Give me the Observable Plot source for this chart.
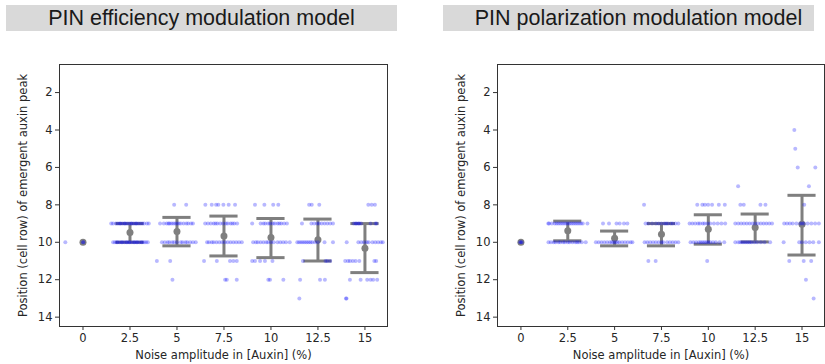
<!DOCTYPE html>
<html>
<head>
<meta charset="utf-8">
<script src="https://cdn.jsdelivr.net/npm/d3@7"></script>
<script src="https://cdn.jsdelivr.net/npm/@observablehq/plot@0.6"></script>
<style>
  html, body { margin: 0; padding: 0; background: #fff; }
  #wrap { position: relative; width: 825px; height: 364px; overflow: hidden; background: #fff; }
  .title { position: absolute; top: 5px; height: 26px; background: #d9d9d9; font-family: "Liberation Sans", Arial, sans-serif; font-size: 21.5px; line-height: 26px; color: #1a1a1a; text-align: center; white-space: nowrap; }
  .panel { position: absolute; top: 0; }
</style>
</head>
<body>
<div id="wrap">
  <div class="title" style="left:6px;width:391px;">PIN efficiency modulation model</div>
  <div class="title" style="left:443px;width:371px;"><span style="position:relative;left:10px;">PIN polarization modulation model</span></div>
  <div class="panel" id="left" style="left:0;"></div>
  <div class="panel" id="right" style="left:410px;"></div>
</div>
<script>
const noiseLevels = [0, 2.5, 5, 7.5, 10, 12.5, 15];
const yTicks = [2, 4, 6, 8, 10, 12, 14];
const xLabel = "Noise amplitude in [Auxin] (%)";
const yLabel = "Position (cell row) of emergent auxin peak";

// PIN efficiency modulation model
const effMean = [10, 9.48, 9.42, 9.66, 9.75, 9.87, 10.32];
const effLow  = [10, 9.0, 8.67, 8.6, 8.73, 8.76, 9.0];
const effHigh = [10, 10.0, 10.19, 10.73, 10.82, 11.0, 11.62];
// rows of jittered points: [cell row, [x positions]]
const effPoints = [
  [10, [-0.94, 0.0, 0.02]],
  [9, [1.5,1.6,1.75,1.85,1.95,2.0,2.1,2.2,2.25,2.35,2.45,2.55,2.6,2.7,2.8,2.85,2.95,3.05,3.15,3.25,3.4,3.5]],
  [10, [1.6,1.7,1.8,1.85,1.95,2.05,2.1,2.2,2.3,2.35,2.45,2.5,2.6,2.7,2.75,2.85,2.9,3.0,3.1,3.15,3.25,3.35,3.45]],
  [8, [4.85,5.49]],
  [9, [4.1,4.3,4.45,4.55,4.6,4.7,4.8,4.9,5.0,5.1,5.2,5.35,5.5,5.6,5.75,5.85]],
  [10, [4.2,4.35,4.5,4.6,4.75,4.85,5.0,5.2,5.3,5.45,5.55,5.7,5.85,6.0]],
  [11, [3.93,4.64]],
  [12, [4.76]],
  [8, [6.51,6.85,7.08,7.2,7.47,7.75,8.09]],
  [9, [6.5,6.65,6.8,6.95,7.05,7.15,7.3,7.45,7.6,7.7,7.85,7.95,8.05,8.2]],
  [10, [6.6,6.7,6.85,6.95,7.1,7.25,7.4,7.55,7.7,7.85,8.0,8.15,8.3,8.45]],
  [11, [6.44,7.12,7.82,8.0,8.18]],
  [12, [7.56,7.65,8.18]],
  [8, [9.15,9.65,10.12,10.39]],
  [9, [9.0,9.45,9.6,9.7,9.85,9.95,10.1,10.2,10.35,10.45,10.55,10.7,10.85]],
  [10, [9.05,9.2,9.3,9.45,9.6,9.75,9.85,10.0,10.15,10.35,10.5,10.65,10.8,11.0]],
  [11, [9.0,9.15,9.42,9.68,10.08]],
  [12, [9.86,9.95,10.66]],
  [8, [12.03,12.17,12.57]],
  [9, [11.65,12.15,12.3,12.45,12.55,12.7,12.85,13.0,13.15,13.3]],
  [10, [11.4,11.5,11.6,11.7,11.8,11.9,12.0,12.1,12.2,12.35,12.5,12.85,13.3]],
  [11, [11.7,12.9,13.0,13.15]],
  [12, [11.55,12.61,12.87]],
  [13, [11.51]],
  [8, [15.18,15.36,15.53]],
  [9, [14.4,14.5,14.55,14.65,14.7,14.8,15.3,15.55,15.62]],
  [10, [14.03,14.65,14.8,14.95,15.1,15.2,15.4,15.55,15.7,15.85,15.95]],
  [11, [13.95,14.1,14.2,14.35,14.5,14.7,15.5,15.6]],
  [12, [14.2,14.77,15.12,15.3,15.44,15.65]],
  [13, [13.99,14.02]]
];

// PIN polarization modulation model
const polMean = [10, 9.39, 9.78, 9.57, 9.3, 9.21, 9.03];
const polLow  = [10, 8.87, 9.4, 9.0, 8.53, 8.49, 7.49];
const polHigh = [10, 9.92, 10.19, 10.19, 10.1, 9.98, 10.68];
const polPoints = [
  [10, [-0.05, 0.0, 0.05]],
  [9, [1.46,1.5,1.65,1.8,1.9,2.0,2.1,2.2,2.3,2.4,2.5,2.6,2.7,2.8,2.9,3.0,3.1,3.2,3.3,3.55]],
  [10, [1.47,1.6,1.75,1.85,2.0,2.1,2.25,2.35,2.5,2.6,2.75,2.9,3.0,3.1,3.25,3.46]],
  [9, [4.38,4.7,5.1,5.27,5.5,5.68]],
  [10, [4.0,4.15,4.3,4.45,4.6,4.75,4.85,4.95,5.05,5.15,5.25,5.4,5.55,5.7,5.85,5.95]],
  [8, [6.57]],
  [9, [6.65,6.8,7.0,7.2,7.35,7.5,7.65,7.75,7.85,8.0,8.1,8.25,8.4]],
  [10, [6.6,6.75,6.9,7.05,7.2,7.35,7.5,7.6,7.8,7.95,8.1,8.25,8.4]],
  [11, [6.8,7.19]],
  [8, [9.41,9.68,9.82,9.99,10.2,10.56,10.88]],
  [9, [9.0,9.15,9.3,9.45,9.55,9.7,9.8,9.95,10.1,10.3,10.5,10.7,10.9]],
  [10, [9.05,9.2,9.35,9.5,9.6,9.7,9.8,9.9,10.0,10.1,10.25,10.4,10.6,10.85]],
  [11, [9.94]],
  [7, [11.59]],
  [8, [11.71,11.89,12.78,13.05]],
  [9, [11.44,11.6,11.75,11.9,12.05,12.2,12.35,12.5,12.65,12.8,12.95,13.1,13.25,13.4]],
  [10, [11.44,11.6,11.7,11.8,11.9,12.0,12.1,12.2,12.3,12.45,12.6,12.8,13.0,13.3]],
  [4, [14.59]],
  [5, [14.64]],
  [6, [14.77,15.71]],
  [7, [15.37]],
  [8, [15.12]],
  [9, [14.05,14.2,14.35,14.5,14.7,14.9,15.0,15.1,15.3,15.5,15.7,15.9]],
  [10, [14.02,14.85,15.0,15.2,15.4,15.6,15.9]],
  [11, [14.32,15.09,15.49]],
  [12, [15.21]],
  [13, [15.62]]
];

const capHalf = 0.75;
const gray = "#7f7f7f";

function panel(rows, mean, low, high, width, marginLeft, marginRight) {
  const pts = rows.flatMap(([y, xs]) => xs.map(x => ({x, y})));
  const stats = noiseLevels.map((x, i) => ({x, mean: mean[i], low: low[i], high: high[i]}));
  const bars = stats.filter(d => d.low !== d.high);
  return Plot.plot({
    width, height: 364,
    marginTop: 64, marginBottom: 38, marginLeft, marginRight,
    style: {fontFamily: "DejaVu Sans, sans-serif", fontSize: "11.5px", color: "#262626", background: "transparent", overflow: "visible"},
    x: {domain: [-1.25, 16.2]},
    y: {domain: [0.5, 14.5], reverse: true},
    marks: [
      Plot.axisX({ticks: noiseLevels, tickFormat: d => String(d), tickSize: 4, tickPadding: 3, label: null, stroke: "#333"}),
      Plot.axisY({ticks: yTicks, tickSize: 4, tickPadding: 3, label: null, stroke: "#333"}),
      Plot.ruleX(bars, {x: "x", y1: "low", y2: "high", stroke: gray, strokeWidth: 3}),
      Plot.ruleY(bars, {y: "low", x1: d => d.x - capHalf, x2: d => d.x + capHalf, stroke: gray, strokeWidth: 3}),
      Plot.ruleY(bars, {y: "high", x1: d => d.x - capHalf, x2: d => d.x + capHalf, stroke: gray, strokeWidth: 3}),
      Plot.dot(stats, {x: "x", y: "mean", r: 3.5, fill: gray, stroke: null}),
      Plot.dot(pts, {x: "x", y: "y", r: 2, fill: "blue", fillOpacity: 0.28, stroke: null}),
      Plot.frame({stroke: "#333", strokeWidth: 1}),
      Plot.text([yLabel], {frameAnchor: "left", dx: -36, rotate: -90, textAnchor: "middle", lineAnchor: "middle", fill: "#262626", fontSize: 11.5}),
      Plot.text([xLabel], {frameAnchor: "bottom", dy: 29, textAnchor: "middle", lineAnchor: "middle", fill: "#262626", fontSize: 11.5})
    ]
  });
}

document.getElementById("left").append(panel(effPoints, effMean, effLow, effHigh, 410, 59, 23));
document.getElementById("right").append(panel(polPoints, polMean, polLow, polHigh, 415, 87, 1));
</script>
</body>
</html>
